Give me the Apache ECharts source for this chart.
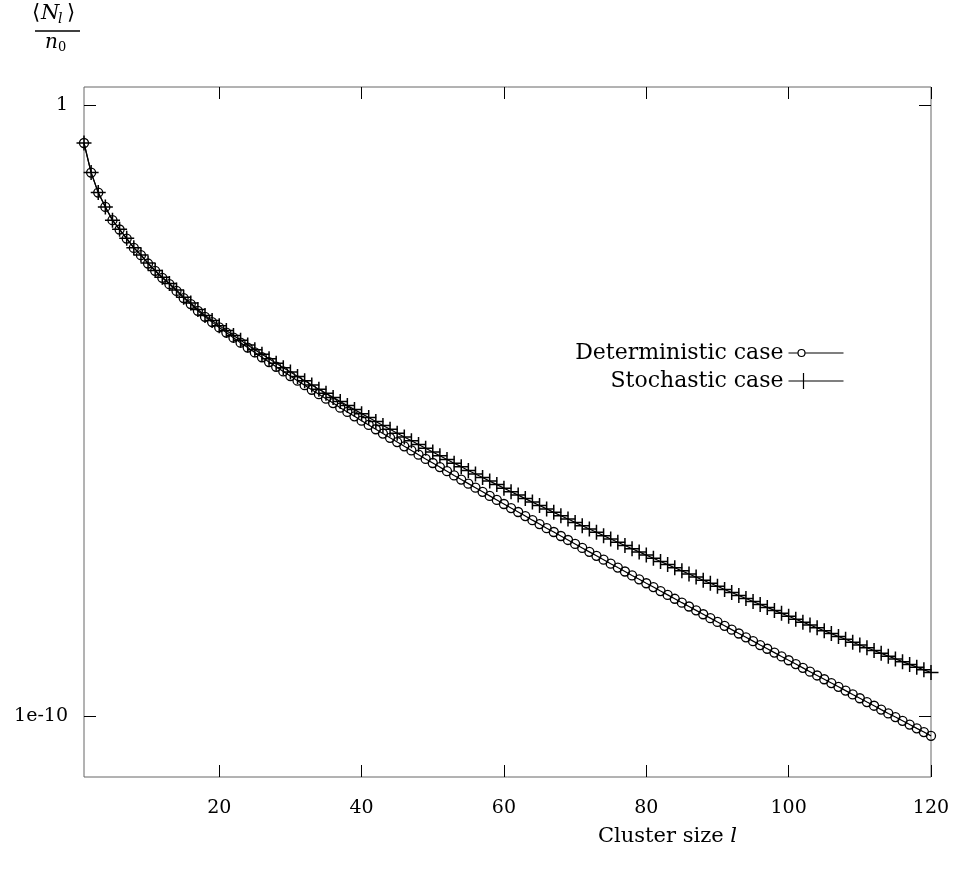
<!DOCTYPE html>
<html>
<head>
<meta charset="utf-8">
<script src="https://cdn.jsdelivr.net/npm/echarts@6/dist/echarts.min.js"></script>
<style>
  html, body { margin: 0; padding: 0; background: #fff; }
  #chart { width: 956px; height: 884px; }
</style>
</head>
<body>
<div id="chart"></div>
<script>
// Cluster sizes l = 1 .. 120
const clusterSizes = [
  1, 2, 3, 4, 5, 6, 7, 8, 9, 10, 11, 12, 13, 14, 15, 16, 17, 18, 19, 20,
  21, 22, 23, 24, 25, 26, 27, 28, 29, 30, 31, 32, 33, 34, 35, 36, 37, 38, 39, 40,
  41, 42, 43, 44, 45, 46, 47, 48, 49, 50, 51, 52, 53, 54, 55, 56, 57, 58, 59, 60,
  61, 62, 63, 64, 65, 66, 67, 68, 69, 70, 71, 72, 73, 74, 75, 76, 77, 78, 79, 80,
  81, 82, 83, 84, 85, 86, 87, 88, 89, 90, 91, 92, 93, 94, 95, 96, 97, 98, 99, 100,
  101, 102, 103, 104, 105, 106, 107, 108, 109, 110, 111, 112, 113, 114, 115, 116, 117, 118, 119, 120
];

// <N_l>/n0 for the deterministic case
const deterministic = [
  2.42e-1, 7.93e-2, 3.73e-2, 2.17e-2, 1.32e-2, 9.27e-3, 6.59e-3, 4.63e-3, 3.52e-3, 2.57e-3,
  1.95e-3, 1.50e-3, 1.18e-3, 9.16e-4, 6.97e-4, 5.56e-4, 4.32e-4, 3.44e-4, 2.82e-4, 2.31e-4,
  1.90e-4, 1.57e-4, 1.30e-4, 1.08e-4, 8.99e-5, 7.50e-5, 6.26e-5, 5.24e-5, 4.39e-5, 3.69e-5,
  3.10e-5, 2.61e-5, 2.20e-5, 1.86e-5, 1.57e-5, 1.33e-5, 1.12e-5, 9.53e-6, 8.08e-6, 6.86e-6,
  5.83e-6, 4.96e-6, 4.22e-6, 3.59e-6, 3.06e-6, 2.61e-6, 2.23e-6, 1.90e-6, 1.62e-6, 1.39e-6,
  1.19e-6, 1.02e-6, 8.69e-7, 7.44e-7, 6.38e-7, 5.47e-7, 4.69e-7, 4.02e-7, 3.45e-7, 2.96e-7,
  2.54e-7, 2.19e-7, 1.88e-7, 1.61e-7, 1.39e-7, 1.19e-7, 1.03e-7, 8.85e-8, 7.62e-8, 6.56e-8,
  5.65e-8, 4.87e-8, 4.20e-8, 3.62e-8, 3.12e-8, 2.69e-8, 2.32e-8, 2.00e-8, 1.73e-8, 1.49e-8,
  1.29e-8, 1.11e-8, 9.61e-9, 8.30e-9, 7.17e-9, 6.20e-9, 5.36e-9, 4.63e-9, 4.00e-9, 3.46e-9,
  2.99e-9, 2.59e-9, 2.24e-9, 1.94e-9, 1.68e-9, 1.45e-9, 1.26e-9, 1.09e-9, 9.43e-10, 8.17e-10,
  7.08e-10, 6.13e-10, 5.31e-10, 4.60e-10, 3.99e-10, 3.46e-10, 3.00e-10, 2.60e-10, 2.25e-10, 1.95e-10,
  1.69e-10, 1.47e-10, 1.27e-10, 1.10e-10, 9.59e-11, 8.32e-11, 7.22e-11, 6.26e-11, 5.44e-11, 4.72e-11
];

// <N_l>/n0 for the stochastic case
const stochastic = [
  2.42e-1, 7.93e-2, 3.74e-2, 2.17e-2, 1.32e-2, 9.32e-3, 6.64e-3, 4.68e-3, 3.56e-3, 2.61e-3,
  1.98e-3, 1.53e-3, 1.21e-3, 9.46e-4, 7.23e-4, 5.80e-4, 4.53e-4, 3.63e-4, 2.99e-4, 2.47e-4,
  2.05e-4, 1.70e-4, 1.42e-4, 1.19e-4, 9.97e-5, 8.38e-5, 7.07e-5, 5.97e-5, 5.05e-5, 4.28e-5,
  3.64e-5, 3.09e-5, 2.64e-5, 2.25e-5, 1.92e-5, 1.65e-5, 1.41e-5, 1.21e-5, 1.04e-5, 8.94e-6,
  7.70e-6, 6.64e-6, 5.73e-6, 4.95e-6, 4.28e-6, 3.71e-6, 3.21e-6, 2.79e-6, 2.42e-6, 2.10e-6,
  1.83e-6, 1.59e-6, 1.38e-6, 1.21e-6, 1.05e-6, 9.19e-7, 8.03e-7, 7.02e-7, 6.15e-7, 5.38e-7,
  4.71e-7, 4.14e-7, 3.63e-7, 3.18e-7, 2.80e-7, 2.46e-7, 2.16e-7, 1.90e-7, 1.68e-7, 1.48e-7,
  1.30e-7, 1.15e-7, 1.02e-7, 8.97e-8, 7.93e-8, 7.01e-8, 6.20e-8, 5.49e-8, 4.86e-8, 4.31e-8,
  3.82e-8, 3.39e-8, 3.01e-8, 2.67e-8, 2.38e-8, 2.11e-8, 1.88e-8, 1.67e-8, 1.49e-8, 1.33e-8,
  1.18e-8, 1.05e-8, 9.40e-9, 8.39e-9, 7.50e-9, 6.70e-9, 5.99e-9, 5.35e-9, 4.79e-9, 4.29e-9,
  3.84e-9, 3.44e-9, 3.08e-9, 2.77e-9, 2.48e-9, 2.23e-9, 2.00e-9, 1.80e-9, 1.61e-9, 1.45e-9,
  1.31e-9, 1.18e-9, 1.06e-9, 9.53e-10, 8.59e-10, 7.74e-10, 6.98e-10, 6.30e-10, 5.69e-10, 5.14e-10
];

const xTicks = [20, 40, 60, 80, 100, 120];
const yTicks = [1e-10, 1];
const seriesNames = ['Deterministic case', 'Stochastic case'];

const FONT = 'DejaVu Serif';
const PLUS = 'path://M0,5L10,5M5,0L5,10';
// legend samples: a line with the marker drawn near its left end
const LEGEND_CIRCLE = 'path://M0,8L9.5,8M16.5,8L55,8M16.5,8A3.5,3.5,0,1,1,9.5,8A3.5,3.5,0,1,1,16.5,8';
const LEGEND_PLUS = 'path://M0,8L55,8M15,0L15,16';

function pairs(xs, ys) { return xs.map((x, i) => [x, ys[i]]); }
function yLabel(v) {
  const e = Math.round(Math.log10(v));
  return e === 0 ? '1' : '1e' + e;
}

const tickStyle = { color: '#000', width: 1 };
function xAxis(pos, labels) {
  return {
    type: 'value', min: 1, max: 120, position: pos,
    axisLine: { show: false }, splitLine: { show: false },
    axisTick: { show: true, inside: true, length: 12, customValues: xTicks, lineStyle: tickStyle },
    axisLabel: { show: labels, customValues: xTicks, margin: 22, fontFamily: FONT, fontSize: 19, color: '#000' }
  };
}
function yAxis(pos, labels) {
  return {
    type: 'log', logBase: 10, min: 1e-11, max: 2, position: pos,
    axisLine: { show: false }, splitLine: { show: false },
    axisTick: { show: true, inside: true, length: 12, customValues: yTicks, lineStyle: tickStyle },
    axisLabel: { show: labels, customValues: yTicks, margin: 16, fontFamily: FONT, fontSize: 19, color: '#000', formatter: yLabel }
  };
}

const circleStroke = { color: 'none', borderColor: '#000', borderWidth: 1.3 };
const plusStroke = { color: 'none', borderColor: '#000', borderWidth: 1.5 };
const legendStroke = { color: 'none', borderColor: '#000', borderWidth: 1.2 };

const chart = echarts.init(document.getElementById('chart'), null, { renderer: 'canvas' });
chart.setOption({
  animation: false,
  backgroundColor: '#fff',
  grid: { left: 84, right: 25, top: 87, bottom: 107, show: true, borderColor: '#666', borderWidth: 1, backgroundColor: 'transparent' },
  xAxis: [xAxis('bottom', true), xAxis('top', false)],
  yAxis: [yAxis('left', true), yAxis('right', false)],
  legend: {
    orient: 'vertical', align: 'right', right: 105, top: 337,
    itemWidth: 55, itemHeight: 16, itemGap: 6, symbolKeepAspect: true,
    textStyle: { fontFamily: FONT, fontSize: 22, color: '#000', lineHeight: 22 },
    data: [
      { name: seriesNames[0], icon: LEGEND_CIRCLE, itemStyle: legendStroke },
      { name: seriesNames[1], icon: LEGEND_PLUS, itemStyle: legendStroke }
    ]
  },
  series: [
    {
      name: seriesNames[0], type: 'line', xAxisIndex: 0, yAxisIndex: 0,
      data: pairs(clusterSizes, deterministic),
      symbol: 'circle', symbolSize: 9,
      itemStyle: circleStroke,
      lineStyle: { color: '#000', width: 1.2 }
    },
    {
      name: seriesNames[1], type: 'line', xAxisIndex: 0, yAxisIndex: 0,
      data: pairs(clusterSizes, stochastic),
      symbol: PLUS, symbolSize: 15,
      itemStyle: plusStroke,
      lineStyle: { color: '#000', width: 1.2 }
    }
  ],
  graphic: [
    // y-axis title: <N_l> / n_0
    { type: 'text', left: 32, top: 3, style: { text: '\u27e8', font: '21px ' + FONT, fill: '#000' } },
    { type: 'text', left: 41, top: 3, style: { text: 'N', font: 'italic 21px ' + FONT, fill: '#000' } },
    { type: 'text', left: 58, top: 12, style: { text: 'l', font: 'italic 14px ' + FONT, fill: '#000' } },
    { type: 'text', left: 67, top: 3, style: { text: '\u27e9', font: '21px ' + FONT, fill: '#000' } },
    { type: 'line', shape: { x1: 35, y1: 31, x2: 80, y2: 31 }, style: { stroke: '#000', lineWidth: 1.6 } },
    { type: 'text', left: 45, top: 33, style: { text: 'n', font: 'italic 20px ' + FONT, fill: '#000' } },
    { type: 'text', left: 58, top: 41, style: { text: '0', font: '13px ' + FONT, fill: '#000' } },
    // x-axis title
    {
      type: 'text', left: 598, top: 826,
      style: {
        text: 'Cluster size {i|l}', font: '21px ' + FONT, fill: '#000',
        rich: { i: { fontFamily: FONT, fontStyle: 'italic', fontSize: 21 } }
      }
    }
  ]
});
</script>
</body>
</html>
